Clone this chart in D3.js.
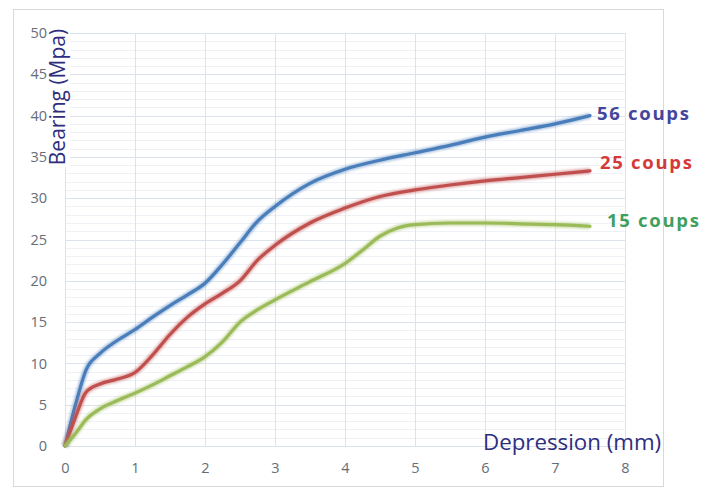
<!DOCTYPE html>
<html>
<head>
<meta charset="utf-8">
<script src="https://cdn.jsdelivr.net/npm/d3@7"></script>
<style>
  html, body { margin: 0; padding: 0; background: #fff; }
  svg { display: block; }
</style>
</head>
<body>
<svg id="chart" width="701" height="489"></svg>
<script>
// ---- data ----
const xTicks = [0, 1, 2, 3, 4, 5, 6, 7, 8];
const yTicks = [0, 5, 10, 15, 20, 25, 30, 35, 40, 45, 50];
const seriesNames = ["56 coups", "25 coups", "15 coups"];
const depth56 = [0, 0.15, 0.3, 0.5, 0.75, 1, 1.25, 1.5, 1.75, 2, 2.25, 2.5, 2.75, 3, 3.5, 4, 4.5, 5, 5.5, 6, 6.5, 7, 7.5];
const bearing56 = [0, 5, 9.2, 11.2, 12.8, 14.1, 15.6, 17, 18.3, 19.7, 22, 24.6, 27.2, 29, 31.8, 33.5, 34.6, 35.5, 36.4, 37.4, 38.2, 39, 40];
const depth25 = [0, 0.15, 0.3, 0.5, 0.75, 1, 1.25, 1.5, 1.75, 2, 2.25, 2.5, 2.75, 3, 3.5, 4, 4.5, 5, 5.5, 6, 6.5, 7, 7.5];
const bearing25 = [0, 3.5, 6.5, 7.5, 8.1, 8.9, 11, 13.5, 15.6, 17.2, 18.5, 20, 22.5, 24.3, 27, 28.8, 30.2, 31, 31.6, 32.1, 32.5, 32.9, 33.3];
const depth15 = [0, 0.15, 0.3, 0.5, 0.75, 1, 1.25, 1.5, 1.75, 2, 2.25, 2.5, 2.75, 3, 3.5, 4, 4.25, 4.5, 4.75, 5, 5.5, 6, 6.5, 7, 7.5];
const bearing15 = [0, 1.5, 3.2, 4.5, 5.5, 6.4, 7.4, 8.5, 9.6, 10.8, 12.6, 15, 16.5, 17.7, 19.9, 22.1, 23.7, 25.4, 26.4, 26.8, 27, 27, 26.9, 26.8, 26.6];

const lineColors = ["#4a7ebb", "#c0504d", "#9bbb59"];
const labelColors = ["#45459c", "#d43a3a", "#3f9f5f"];

// ---- layout ----
const svg = d3.select("#chart");
const x = d3.scaleLinear().domain([0, 8]).range([65, 625]);
const y = d3.scaleLinear().domain([0, 50]).range([446, 33]);
const FONT = "'Open Sans', sans-serif";

// outer frame
svg.append("rect").attr("x", 13.5).attr("y", 9.5).attr("width", 650).attr("height", 477)
  .attr("fill", "#fff").attr("stroke", "#d9d9d9").attr("stroke-width", 1);

// minor horizontal grid
const minor = d3.range(0, 51, 1).filter(v => v % 5 !== 0);
svg.append("g").selectAll("line").data(minor).join("line")
  .attr("x1", x(0)).attr("x2", x(8))
  .attr("y1", d => Math.round(y(d)) + 0.5).attr("y2", d => Math.round(y(d)) + 0.5)
  .attr("stroke", "#eef1f6").attr("stroke-width", 1);

// major horizontal grid
svg.append("g").selectAll("line").data(yTicks).join("line")
  .attr("x1", x(0)).attr("x2", x(8))
  .attr("y1", d => Math.round(y(d)) + 0.5).attr("y2", d => Math.round(y(d)) + 0.5)
  .attr("stroke", "#dde3ec").attr("stroke-width", 1);

// vertical grid
svg.append("g").selectAll("line").data(xTicks).join("line")
  .attr("x1", d => Math.round(x(d)) + 0.5).attr("x2", d => Math.round(x(d)) + 0.5)
  .attr("y1", y(50)).attr("y2", y(0))
  .attr("stroke", "#dde3ec").attr("stroke-width", 1);

// axes
const yAxis = d3.axisLeft(y).tickValues(yTicks).tickSize(0).tickPadding(0);
const gy = svg.append("g").attr("transform", `translate(${x(0) - 18},0)`).call(yAxis);
gy.select(".domain").remove();
gy.selectAll("text").attr("fill", "#656d78").style("font-family", FONT).style("font-size", "14.5px");

const xAxis = d3.axisBottom(x).tickValues(xTicks).tickSize(0).tickPadding(17);
const gx = svg.append("g").attr("transform", `translate(0,${y(0)})`).call(xAxis);
gx.select(".domain").remove();
gx.selectAll("text").attr("fill", "#656d78").style("font-family", FONT).style("font-size", "14.5px");

// glow filter
const defs = svg.append("defs");
const f = defs.append("filter").attr("id", "glow").attr("x", "-10%").attr("y", "-10%").attr("width", "120%").attr("height", "120%");
f.append("feGaussianBlur").attr("stdDeviation", 1.3);

const series = [
  { name: seriesNames[0], xs: depth56, ys: bearing56 },
  { name: seriesNames[1], xs: depth25, ys: bearing25 },
  { name: seriesNames[2], xs: depth15, ys: bearing15 }
];

const line = d3.line().x(d => x(d[0])).y(d => y(d[1])).curve(d3.curveMonotoneX);

series.forEach((s, i) => {
  const pts = s.xs.map((v, k) => [v, s.ys[k]]);
  svg.append("path").datum(pts).attr("d", line)
    .attr("fill", "none").attr("stroke", lineColors[i]).attr("stroke-opacity", 0.45)
    .attr("stroke-width", 6).attr("filter", "url(#glow)");
  svg.append("path").datum(pts).attr("d", line)
    .attr("fill", "none").attr("stroke", lineColors[i])
    .attr("stroke-width", 3.2).attr("stroke-linecap", "round");
});

// series labels
const labelPos = [[597, 120], [600, 169], [607, 227]];
series.forEach((s, i) => {
  svg.append("text").attr("x", labelPos[i][0]).attr("y", labelPos[i][1])
    .attr("fill", labelColors[i])
    .style("font-family", FONT).style("font-weight", "bold").style("font-size", "18.5px")
    .style("letter-spacing", "1.7px")
    .text(s.name);
});

// axis titles
const yTitle = svg.append("g").attr("transform", "translate(65,97) rotate(-90)");
const yBg = yTitle.append("rect").attr("fill", "#fff");
const yText = yTitle.append("text")
  .attr("text-anchor", "middle")
  .attr("fill", "#2e2e7e")
  .style("font-family", FONT).style("font-size", "21px")
  .text("Bearing (Mpa)");
const bb = yText.node().getBBox();
yBg.attr("x", bb.x - 2).attr("y", -15).attr("width", bb.width + 4).attr("height", 20);

svg.append("text")
  .attr("x", 483).attr("y", 450)
  .attr("fill", "#2e2e7e")
  .style("font-family", FONT).style("font-size", "22.3px")
  .text("Depression (mm)");
</script>
</body>
</html>
